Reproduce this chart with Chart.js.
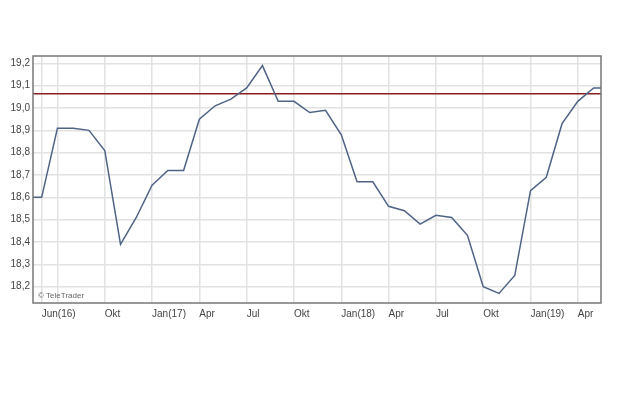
<!DOCTYPE html>
<html>
<head>
<meta charset="utf-8">
<script src="https://cdn.jsdelivr.net/npm/chart.js@4/dist/chart.umd.min.js"></script>
<style>
  body { margin: 0; background: #fff; }
  canvas { display: block; }
</style>
</head>
<body>
<canvas id="chart" width="620" height="413"></canvas>
<script>
// month index: 0 = Jun 2016 (first and last points run past the plot edges)
const months = [-1, 0, 1, 2, 3, 4, 5, 6, 7, 8, 9, 10, 11, 12, 13, 14, 15, 16, 17, 18,
  19, 20, 21, 22, 23, 24, 25, 26, 27, 28, 29, 30, 31, 32, 33, 34, 35, 36];
const prices = [18.60, 18.60, 18.91, 18.91, 18.90, 18.81, 18.39, 18.51, 18.655, 18.72, 18.72,
  18.95, 19.01, 19.04, 19.09, 19.19, 19.03, 19.03, 18.98, 18.99,
  18.88, 18.67, 18.67, 18.56, 18.54, 18.48, 18.52, 18.51, 18.43, 18.20, 18.17, 18.25,
  18.63, 18.69, 18.93, 19.03, 19.09, 19.09];
const refLevel = 19.064;

const xTicks = [0, 1, 4, 7, 10, 13, 16, 19, 22, 25, 28, 31, 34];
const xTickLabels = ["Jun(16)", "", "Okt", "Jan(17)", "Apr", "Jul", "Okt", "Jan(18)", "Apr", "Jul", "Okt", "Jan(19)", "Apr"];
const yTicks = [18.2, 18.3, 18.4, 18.5, 18.6, 18.7, 18.8, 18.9, 19.0, 19.1, 19.2];

const xMin = -0.55, xMax = 35.47;
const yMin = 18.127, yMax = 19.233;

const frame = {
  id: 'frame',
  afterDraw(chart) {
    const { ctx, chartArea: a } = chart;
    ctx.save();
    ctx.strokeStyle = '#777';
    ctx.lineWidth = 1.5;
    ctx.strokeRect(a.left, a.top, a.right - a.left, a.bottom - a.top);
    ctx.fillStyle = '#666';
    ctx.font = '8px "Liberation Sans", Arial, sans-serif';
    ctx.textBaseline = 'middle';
    ctx.fillText('\u00A9 TeleTrader', a.left + 5, a.bottom - 7);
    ctx.restore();
  }
};

const series = months.map((m, i) => ({ x: m, y: prices[i] }));

new Chart(document.getElementById('chart'), {
  type: 'line',
  data: {
    datasets: [{
      data: series,
      borderColor: '#4f6385',
      borderWidth: 1.5,
      pointRadius: 0,
      tension: 0,
    }, {
      data: [{ x: xMin, y: refLevel }, { x: xMax, y: refLevel }],
      borderColor: '#8b1e1e',
      borderWidth: 1.5,
      pointRadius: 0,
    }],
  },
  options: {
    responsive: false,
    animation: false,
    layout: { padding: { left: 0, top: 56, right: 19, bottom: 0 } },
    plugins: { legend: { display: false }, tooltip: { enabled: false } },
    scales: {
      x: {
        type: 'linear',
        min: xMin,
        max: xMax,
        afterBuildTicks: (s) => { s.ticks = xTicks.map(v => ({ value: v })); },
        afterFit: (s) => { s.height = 110; },
        grid: { color: '#e2e2e2', lineWidth: 1.5, drawTicks: false },
        border: { display: false },
        ticks: {
          align: 'start',
          padding: 5,
          maxRotation: 0,
          autoSkip: false,
          color: '#444',
          font: { family: '"Liberation Sans", Arial, sans-serif', size: 10 },
          callback: (v) => xTickLabels[xTicks.indexOf(v)],
        },
      },
      y: {
        min: yMin,
        max: yMax,
        afterBuildTicks: (s) => { s.ticks = yTicks.map(v => ({ value: v })); },
        afterFit: (s) => { s.width = 33; },
        grid: { color: '#e2e2e2', lineWidth: 1.5, drawTicks: false },
        border: { display: false },
        ticks: {
          padding: 3,
          color: '#444',
          font: { family: '"Liberation Sans", Arial, sans-serif', size: 10 },
          callback: (v) => v.toFixed(1).replace('.', ','),
        },
      },
    },
  },
  plugins: [frame],
});
</script>
</body>
</html>
